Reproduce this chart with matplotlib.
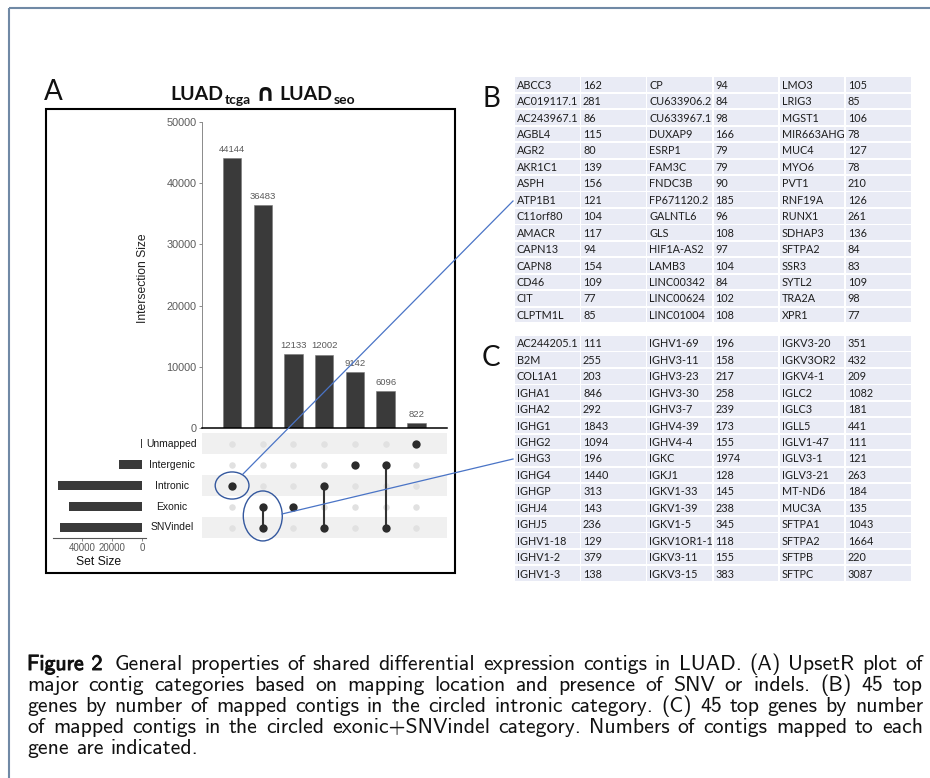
import matplotlib
matplotlib.use('Agg')
import matplotlib.pyplot as plt
from matplotlib.patches import Rectangle, Ellipse
import matplotlib.patheffects as pe

W, H = 930, 778

# ---------------- data ----------------
# UpSet intersections (left to right)
combo_sizes = [44144, 36483, 12133, 12002, 9142, 6096, 822]
combo_members = [['Intronic'], ['Exonic', 'SNVindel'], ['Exonic'],
                 ['Intronic', 'SNVindel'], ['Intergenic'],
                 ['Intergenic', 'SNVindel'], ['Unmapped']]
set_names = ['Unmapped', 'Intergenic', 'Intronic', 'Exonic', 'SNVindel']
set_sizes = [822, 15238, 56146, 48616, 54581]
bar_ticks = [0, 10000, 20000, 30000, 40000, 50000]
set_ticks = [40000, 20000, 0]

# table B (circled intronic category), column by column
genes_b = ['ABCC3', 'AC019117.1', 'AC243967.1', 'AGBL4', 'AGR2', 'AKR1C1', 'ASPH',
           'ATP1B1', 'C11orf80', 'AMACR', 'CAPN13', 'CAPN8', 'CD46', 'CIT', 'CLPTM1L',
           'CP', 'CU633906.2', 'CU633967.1', 'DUXAP9', 'ESRP1', 'FAM3C', 'FNDC3B',
           'FP671120.2', 'GALNTL6', 'GLS', 'HIF1A-AS2', 'LAMB3', 'LINC00342',
           'LINC00624', 'LINC01004',
           'LMO3', 'LRIG3', 'MGST1', 'MIR663AHG', 'MUC4', 'MYO6', 'PVT1', 'RNF19A',
           'RUNX1', 'SDHAP3', 'SFTPA2', 'SSR3', 'SYTL2', 'TRA2A', 'XPR1']
counts_b = [162, 281, 86, 115, 80, 139, 156, 121, 104, 117, 94, 154, 109, 77, 85,
            94, 84, 98, 166, 79, 79, 90, 185, 96, 108, 97, 104, 84, 102, 108,
            105, 85, 106, 78, 127, 78, 210, 126, 261, 136, 84, 83, 109, 98, 77]

# table C (circled exonic+SNVindel category)
genes_c = ['AC244205.1', 'B2M', 'COL1A1', 'IGHA1', 'IGHA2', 'IGHG1', 'IGHG2', 'IGHG3',
           'IGHG4', 'IGHGP', 'IGHJ4', 'IGHJ5', 'IGHV1-18', 'IGHV1-2', 'IGHV1-3',
           'IGHV1-69', 'IGHV3-11', 'IGHV3-23', 'IGHV3-30', 'IGHV3-7', 'IGHV4-39',
           'IGHV4-4', 'IGKC', 'IGKJ1', 'IGKV1-33', 'IGKV1-39', 'IGKV1-5', 'IGKV1OR1-1',
           'IGKV3-11', 'IGKV3-15',
           'IGKV3-20', 'IGKV3OR2', 'IGKV4-1', 'IGLC2', 'IGLC3', 'IGLL5', 'IGLV1-47',
           'IGLV3-1', 'IGLV3-21', 'MT-ND6', 'MUC3A', 'SFTPA1', 'SFTPA2', 'SFTPB', 'SFTPC']
counts_c = [111, 255, 203, 846, 292, 1843, 1094, 196, 1440, 313, 143, 236, 129, 379, 138,
            196, 158, 217, 258, 239, 173, 155, 1974, 128, 145, 238, 345, 118, 155, 383,
            351, 432, 209, 1082, 181, 441, 111, 121, 263, 184, 135, 1043, 1664, 220, 3087]

caption = [
    'Figure 2 General properties of shared differential expression contigs in LUAD. (A) UpsetR plot of',
    'major contig categories based on mapping location and presence of SNV or indels. (B) 45 top',
    'genes by number of mapped contigs in the circled intronic category. (C) 45 top genes by number',
    'of mapped contigs in the circled exonic+SNVindel category. Numbers of contigs mapped to each',
    'gene are indicated.',
]

# ---------------- helpers ----------------
def rect(l, t, r, b):
    return [l / W, 1 - b / H, (r - l) / W, (b - t) / H]

dark = '#3a3a3a'
grey_txt = '#5a5a5a'
ufont = 'Liberation Sans'

fig = plt.figure(figsize=(W / 100, H / 100), dpi=100)
ax0 = fig.add_axes([0, 0, 1, 1])
ax0.set_xlim(0, W)
ax0.set_ylim(H, 0)
ax0.axis('off')
renderer = fig.canvas.get_renderer()

def wd(t):
    return t.get_window_extent(renderer).width

# page frame
ax0.plot([8.5, 8.5], [7.5, H], color='#7089a5', lw=1.5, solid_capstyle='butt')
ax0.plot([8.5, W], [7.5, 7.5], color='#7089a5', lw=1.5, solid_capstyle='butt')

# panel A box + labels
ax0.add_patch(Rectangle((46, 109), 409, 464, fill=False, ec='black', lw=1.5))
ax0.text(44, 100, 'A', fontsize=20, family='Lato', va='baseline', color='#111111')
ax0.text(482, 107, 'B', fontsize=20, family='Lato', va='baseline', color='#111111')
ax0.text(482, 366, 'C', fontsize=20, family='Lato', va='baseline', color='#111111')

# title LUAD_tcga ∩ LUAD_seo
parts = [('LUAD', 14, 0, 1, 'Lato'), ('tcga', 10, 3.5, 5, 'Lato'),
         ('∩', 17, 0, 5, 'DejaVu Sans'), ('LUAD', 14, 0, 1, 'Lato'),
         ('seo', 10, 3.5, 0, 'Lato')]
objs = []
for s, fs, dy, gap, fam in parts:
    t = ax0.text(0, 100 + dy, s, fontsize=fs, fontweight='bold',
                 family=[fam, 'DejaVu Sans'], va='baseline', color='#111111')
    objs.append((t, gap))
widths = [wd(t) for t, g in objs]
total = sum(widths) + sum(g for t, g in objs[:-1])
x = 263 - total / 2
for (t, g), w in zip(objs, widths):
    t.set_x(x)
    x += w + g

# ---------------- UpSet: intersection bars ----------------
n = len(combo_sizes)
xs = list(range(n))
ax_bar = fig.add_axes(rect(202, 122, 447, 428))
ax_bar.bar(xs, combo_sizes, width=0.6, color=dark, edgecolor='#777777', lw=0.4)
for xi, v in zip(xs, combo_sizes):
    ax_bar.annotate(str(v), (xi, v), xytext=(0, 3), textcoords='offset points',
                    ha='center', va='bottom', fontsize=6.8, color=grey_txt, family=ufont)
ax_bar.set_xlim(-0.98, 7.0)
ax_bar.set_ylim(0, 50000)
ax_bar.set_yticks(bar_ticks)
ax_bar.set_yticklabels([str(v) for v in bar_ticks], fontsize=7.8, color=grey_txt, family=ufont)
ax_bar.tick_params(axis='y', length=2.5, width=0.6, color='#777777', pad=1.5)
ax_bar.set_xticks([])
for s in ['top', 'right']:
    ax_bar.spines[s].set_visible(False)
ax_bar.spines['left'].set_color('#8a8a8a')
ax_bar.spines['left'].set_linewidth(0.7)
ax_bar.spines['bottom'].set_color('black')
ax_bar.spines['bottom'].set_linewidth(1.1)
ax_bar.patch.set_alpha(0)
ax0.text(143, 278, 'Intersection Size', rotation=90, ha='center', va='center',
         fontsize=8.7, color='#222222', family=ufont)

# ---------------- UpSet: matrix ----------------
ax_mat = fig.add_axes(rect(202, 433, 447, 538))
ax_mat.set_xlim(-0.98, 7.0)
ax_mat.set_ylim(-0.5, 4.5)
ax_mat.axis('off')
row_y = {name: len(set_names) - 1 - i for i, name in enumerate(set_names)}
for i, name in enumerate(set_names):
    if i % 2 == 0:
        ax_mat.axhspan(row_y[name] - 0.48, row_y[name] + 0.48, color='#f0f0f0', lw=0, zorder=0)
for xi, members in zip(xs, combo_members):
    for name in set_names:
        if name not in members:
            ax_mat.scatter(xi, row_y[name], s=22, color='#e1e1e1', lw=0, zorder=2)
    ys = [row_y[m] for m in members]
    if len(ys) > 1:
        ax_mat.plot([xi, xi], [min(ys), max(ys)], color='#333333', lw=1.5, zorder=3)
    ax_mat.scatter([xi] * len(ys), ys, s=36, color='#2b2b2b', lw=0, zorder=4)

# circled categories
ax_mat.add_patch(Ellipse((0, row_y['Intronic']), 1.1, 1.29, fill=False,
                         ec='#34589e', lw=1.0, clip_on=False, zorder=6))
ax_mat.add_patch(Ellipse((1, 0.55), 1.27, 2.38, fill=False,
                         ec='#34589e', lw=1.0, clip_on=False, zorder=6))

# ---------------- UpSet: set sizes ----------------
ax_set = fig.add_axes(rect(53, 433, 146, 538))
ax_set.barh([row_y[nm] for nm in set_names], set_sizes, height=0.47, color=dark)
ax_set.set_xlim(59333, -2667)
ax_set.set_ylim(-0.5, 4.5)
ax_set.set_yticks([])
ax_set.set_xticks(set_ticks)
ax_set.set_xticklabels([str(v) for v in set_ticks], fontsize=7, color=grey_txt, family=ufont)
ax_set.tick_params(axis='x', length=2.5, width=0.6, color='#777777', pad=1)
for s in ['top', 'right', 'left']:
    ax_set.spines[s].set_visible(False)
ax_set.spines['bottom'].set_color('#555555')
ax_set.spines['bottom'].set_linewidth(0.8)
ax_set.patch.set_alpha(0)
ax0.text(99, 562, 'Set Size', ha='center', va='center', fontsize=8.7,
         color='#111111', family=ufont)
for i, name in enumerate(set_names):
    ax0.text(172, 443.5 + 21 * i, name, ha='center', va='center', fontsize=7.5,
             color='#1a1a1a', family=ufont)

# ---------------- tables B and C ----------------
col_x0, col_pitch, cell_w = 515, 66.2, 64.5
row_pitch, cell_h = 16.45, 14.6
for top, genes, counts in [(77.3, genes_b, counts_b), (336, genes_c, counts_c)]:
    for k, (g, c) in enumerate(zip(genes, counts)):
        col, row = k // 15, k % 15
        y = top + row * row_pitch
        for j, label in enumerate([g, str(c)]):
            x = col_x0 + (2 * col + j) * col_pitch
            ax0.add_patch(Rectangle((x, y), cell_w, cell_h, color='#e9ebf5', lw=0))
            ax0.text(x + 1.8, y + cell_h / 2 + 0.5, label, ha='left', va='center',
                     fontsize=7.8, family='Lato', color='#1e1e1e')

# ---------------- connector lines ----------------
ax_top = fig.add_axes([0, 0, 1, 1], zorder=10)
ax_top.set_xlim(0, W)
ax_top.set_ylim(H, 0)
ax_top.axis('off')
ax_top.plot([243, 513], [474, 201], color='#4a74c6', lw=0.9)
ax_top.plot([282, 513], [514, 459], color='#4a74c6', lw=0.9)

# ---------------- caption (justified like LaTeX) ----------------
cap_fam = ['cmss10', 'DejaVu Sans']
probe = ax0.text(0, 0, caption[0], fontsize=10, family=cap_fam)
cap_fs = 10 * 884 / wd(probe)
probe.remove()
sp = ax0.text(0, 0, 'a a', fontsize=cap_fs, family=cap_fam)
sp2 = ax0.text(0, 0, 'aa', fontsize=cap_fs, family=cap_fam)
space_w = wd(sp) - wd(sp2)
sp.remove()
sp2.remove()
x_left, x_right = 27, 923
for li, line in enumerate(caption):
    yb = 670 + 21 * li
    words = line.split(' ')
    ts = []
    for wi, w in enumerate(words):
        t = ax0.text(0, yb, w, fontsize=cap_fs, family=cap_fam, va='baseline', color='#111111')
        if li == 0 and wi < 2:
            t.set_path_effects([pe.withStroke(linewidth=0.7, foreground='#111111')])
        ts.append(t)
    ws = [wd(t) for t in ts]
    extra = [0.0] * len(ts)
    if li == 0:
        extra[1] = 4.0
    if li < len(caption) - 1:
        gap = (x_right - x_left - sum(ws) - sum(extra)) / (len(ws) - 1)
    else:
        gap = space_w
    x = x_left
    for t, w, e in zip(ts, ws, extra):
        t.set_x(x)
        x += w + gap + e

fig.savefig('out.png', dpi=100)
